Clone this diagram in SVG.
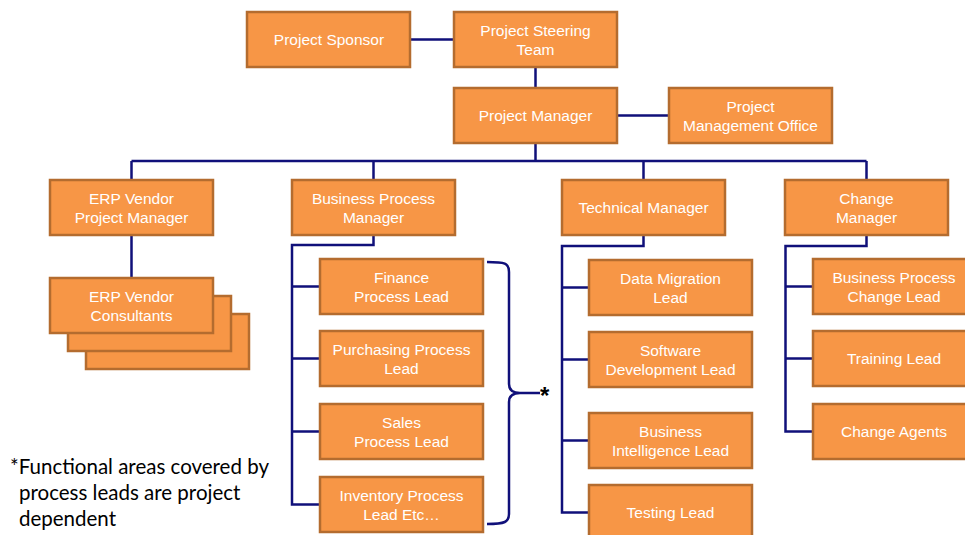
<svg xmlns="http://www.w3.org/2000/svg" width="965" height="535" viewBox="0 0 965 535">
<style>
.b{fill:#F79646;stroke:#B46C2F;stroke-width:2.5}
.t{fill:#FFFFFF;font-family:"Liberation Sans",Arial,sans-serif;font-size:15.5px;text-anchor:middle}
.c{fill:none;stroke:#10107A;stroke-width:2.5}
.n{fill:#000;font-family:Lato,"Liberation Sans",sans-serif;font-size:20.5px}
</style>
<rect width="965" height="535" fill="#FFFFFF"/>
<g id="connectors">
<path class="c" d="M410,39.5H454M535.5,67V88M617,115.5H669M535.5,143V161M131.5,161H866.5M131.5,161V180M373.5,161V180M643.5,161V180M866.5,161V180M131.5,235V278"/>
<path class="c" d="M373.5,235V245H292V504.5H320M292,286.5H320M292,358.5H320M292,431.5H320"/>
<path class="c" d="M643.5,235V246H562V512.5H589M562,287.5H589M562,359.5H589M562,440.5H589"/>
<path class="c" d="M866.5,235V246H785.5V431.5H813M785.5,286.5H813M785.5,358.5H813"/>
<path class="c" d="M487,262C505,262 509,263 509,272V384C509,390 512,393 520,393H540M520,393C512,393 509,396 509,402V514C509,522 505,524 487,524"/>
</g>
<g id="sponsor"><rect class="b" x="247" y="12" width="163" height="55"/><text class="t" x="329" y="45">Project Sponsor</text></g>
<g id="steering"><rect class="b" x="454" y="12" width="163" height="55"/><text class="t" x="535.5" y="36">Project Steering</text><text class="t" x="535.5" y="54.5">Team</text></g>
<g id="pm"><rect class="b" x="454" y="88" width="163" height="55"/><text class="t" x="535.5" y="121">Project Manager</text></g>
<g id="pmo"><rect class="b" x="669" y="88" width="163" height="55"/><text class="t" x="750.5" y="112">Project</text><text class="t" x="750.5" y="130.5">Management Office</text></g>
<g id="erp-pm"><rect class="b" x="50" y="180" width="163" height="55"/><text class="t" x="131.5" y="204">ERP Vendor</text><text class="t" x="131.5" y="222.5">Project Manager</text></g>
<g id="bpm"><rect class="b" x="292" y="180" width="163" height="55"/><text class="t" x="373.5" y="204">Business Process</text><text class="t" x="373.5" y="222.5">Manager</text></g>
<g id="tm"><rect class="b" x="562" y="180" width="163" height="55"/><text class="t" x="643.5" y="213">Technical Manager</text></g>
<g id="cm"><rect class="b" x="785" y="180" width="163" height="55"/><text class="t" x="866.5" y="204">Change</text><text class="t" x="866.5" y="222.5">Manager</text></g>
<g id="consultants"><rect class="b" x="86" y="314" width="163" height="55"/><rect class="b" x="68" y="296" width="163" height="55"/><rect class="b" x="50" y="278" width="163" height="55"/><text class="t" x="131.5" y="302">ERP Vendor</text><text class="t" x="131.5" y="320.5">Consultants</text></g>
<g id="finance"><rect class="b" x="320" y="259" width="163" height="55"/><text class="t" x="401.5" y="283">Finance</text><text class="t" x="401.5" y="301.5">Process Lead</text></g>
<g id="purchasing"><rect class="b" x="320" y="331" width="163" height="55"/><text class="t" x="401.5" y="355">Purchasing Process</text><text class="t" x="401.5" y="373.5">Lead</text></g>
<g id="sales"><rect class="b" x="320" y="404" width="163" height="55"/><text class="t" x="401.5" y="428">Sales</text><text class="t" x="401.5" y="446.5">Process Lead</text></g>
<g id="inventory"><rect class="b" x="320" y="477" width="163" height="55"/><text class="t" x="401.5" y="501">Inventory Process</text><text class="t" x="401.5" y="519.5">Lead Etc…</text></g>
<g id="datamig"><rect class="b" x="589" y="260" width="163" height="55"/><text class="t" x="670.5" y="284">Data Migration</text><text class="t" x="670.5" y="302.5">Lead</text></g>
<g id="software"><rect class="b" x="589" y="332" width="163" height="55"/><text class="t" x="670.5" y="356">Software</text><text class="t" x="670.5" y="374.5">Development Lead</text></g>
<g id="bi"><rect class="b" x="589" y="413" width="163" height="55"/><text class="t" x="670.5" y="437">Business</text><text class="t" x="670.5" y="455.5">Intelligence Lead</text></g>
<g id="testing"><rect class="b" x="589" y="485" width="163" height="55"/><text class="t" x="670.5" y="518">Testing Lead</text></g>
<g id="bpcl"><rect class="b" x="813" y="259" width="163" height="55"/><text class="t" x="894" y="283">Business Process</text><text class="t" x="894" y="301.5">Change Lead</text></g>
<g id="training"><rect class="b" x="813" y="331" width="163" height="55"/><text class="t" x="894" y="364">Training Lead</text></g>
<g id="agents"><rect class="b" x="813" y="404" width="163" height="55"/><text class="t" x="894" y="437">Change Agents</text></g>
<g id="notes">
<text x="540" y="404" fill="#000" font-size="24" font-family="Liberation Sans,sans-serif" font-weight="bold">*</text>
<text class="n" x="10" y="474">*Functional areas covered by</text>
<text class="n" x="19" y="500">process leads are project</text>
<text class="n" x="19" y="526">dependent</text>
</g>
</svg>
